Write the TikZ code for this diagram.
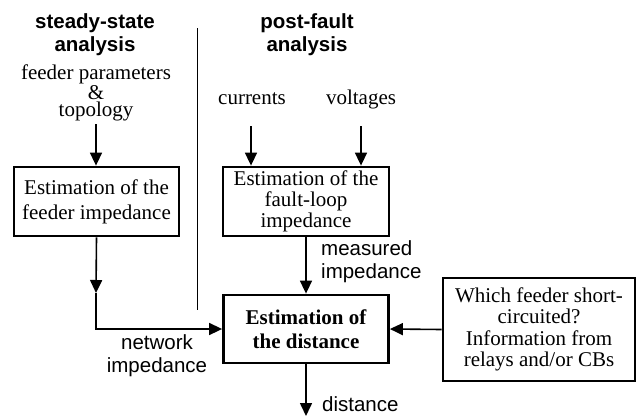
\documentclass[tikz,border=0pt]{standalone}
\usepackage{fontspec}
\setmainfont{Liberation Serif}
\setsansfont{Liberation Sans}
\usetikzlibrary{arrows.meta}
\tikzset{
  box/.style={draw, line width=2.8pt, align=center, inner sep=0pt, font=\fontsize{21}{22}\selectfont},
  lbl/.style={align=center, inner sep=0pt, font=\fontsize{21}{22}\selectfont},
  slbl/.style={align=left, inner sep=0pt, font=\sffamily\fontsize{20.5}{23}\selectfont},
  ttl/.style={align=center, inner sep=0pt, font=\sffamily\bfseries\fontsize{20.5}{23}\selectfont},
  arr/.style={line width=1.6pt, -{Triangle[length=13pt,width=12pt]}},
  ln/.style={line width=1.6pt}
}
\begin{document}
\begin{tikzpicture}[x=1pt,y=-1pt]
\useasboundingbox (0,0) rectangle (638,416);
% titles
\node[ttl] (t1) at (95,35) {steady-state\\analysis};
\node[ttl] (t2) at (307,35) {post-fault\\analysis};
% divider
\coordinate (dtop) at (197,28);
\coordinate (dbot) at (197,310);
\draw[line width=0.9pt] (dtop) -- (dbot);
% inputs
\node[lbl, font=\fontsize{21}{17}\selectfont] (fp) at (96,93) {feeder parameters\\\&\\topology};
\node[lbl] (cur) at (252,99) {currents};
\node[lbl] (volt) at (361,99) {voltages};
% boxes
\node[box, minimum width=165pt, minimum height=69pt, font=\fontsize{21}{25}\selectfont] (b1) at (96.5,201.5) {Estimation of the\\feeder impedance};
\node[box, minimum width=166pt, minimum height=69pt, font=\fontsize{21}{21}\selectfont] (b2) at (306,201.5) {Estimation of the\\fault-loop\\impedance};
\node[box, minimum width=165pt, minimum height=68pt, font=\bfseries\fontsize{21}{24}\selectfont] (b3) at (306,329) {Estimation of\\the distance};
\node[box, minimum width=192pt, minimum height=103pt, font=\fontsize{21}{21.3}\selectfont] (b4) at (539,329.5) {Which feeder short-\\circuited?\\Information from\\relays and/or CBs};
% arrows
\coordinate (fps) at (96,124);
\draw[arr] (fps) -- (fps |- b1.north);
\coordinate (cs) at (251,126);
\draw[arr] (cs) -- (cs |- b2.north);
\coordinate (vs) at (361,126);
\draw[arr] (vs) -- (vs |- b2.north);
\draw[arr] (b2.south) -- (b3.north);
\coordinate (m) at (96,293);
\draw[arr] (b1.south) -- (m);
\draw[arr] (m) |- (b3.west);
\draw[arr] (b4.west) -- (b3.east);
\coordinate (out) at (306,416);
\draw[arr] (b3.south) -- (out);
% labels
\node[slbl, anchor=west] (mi) at (321,262) {measured\\impedance};
\node[slbl, align=center] (ni) at (157,356) {network\\impedance};
\node[slbl, anchor=west] (di) at (322,404) {distance};
\end{tikzpicture}
\end{document}
